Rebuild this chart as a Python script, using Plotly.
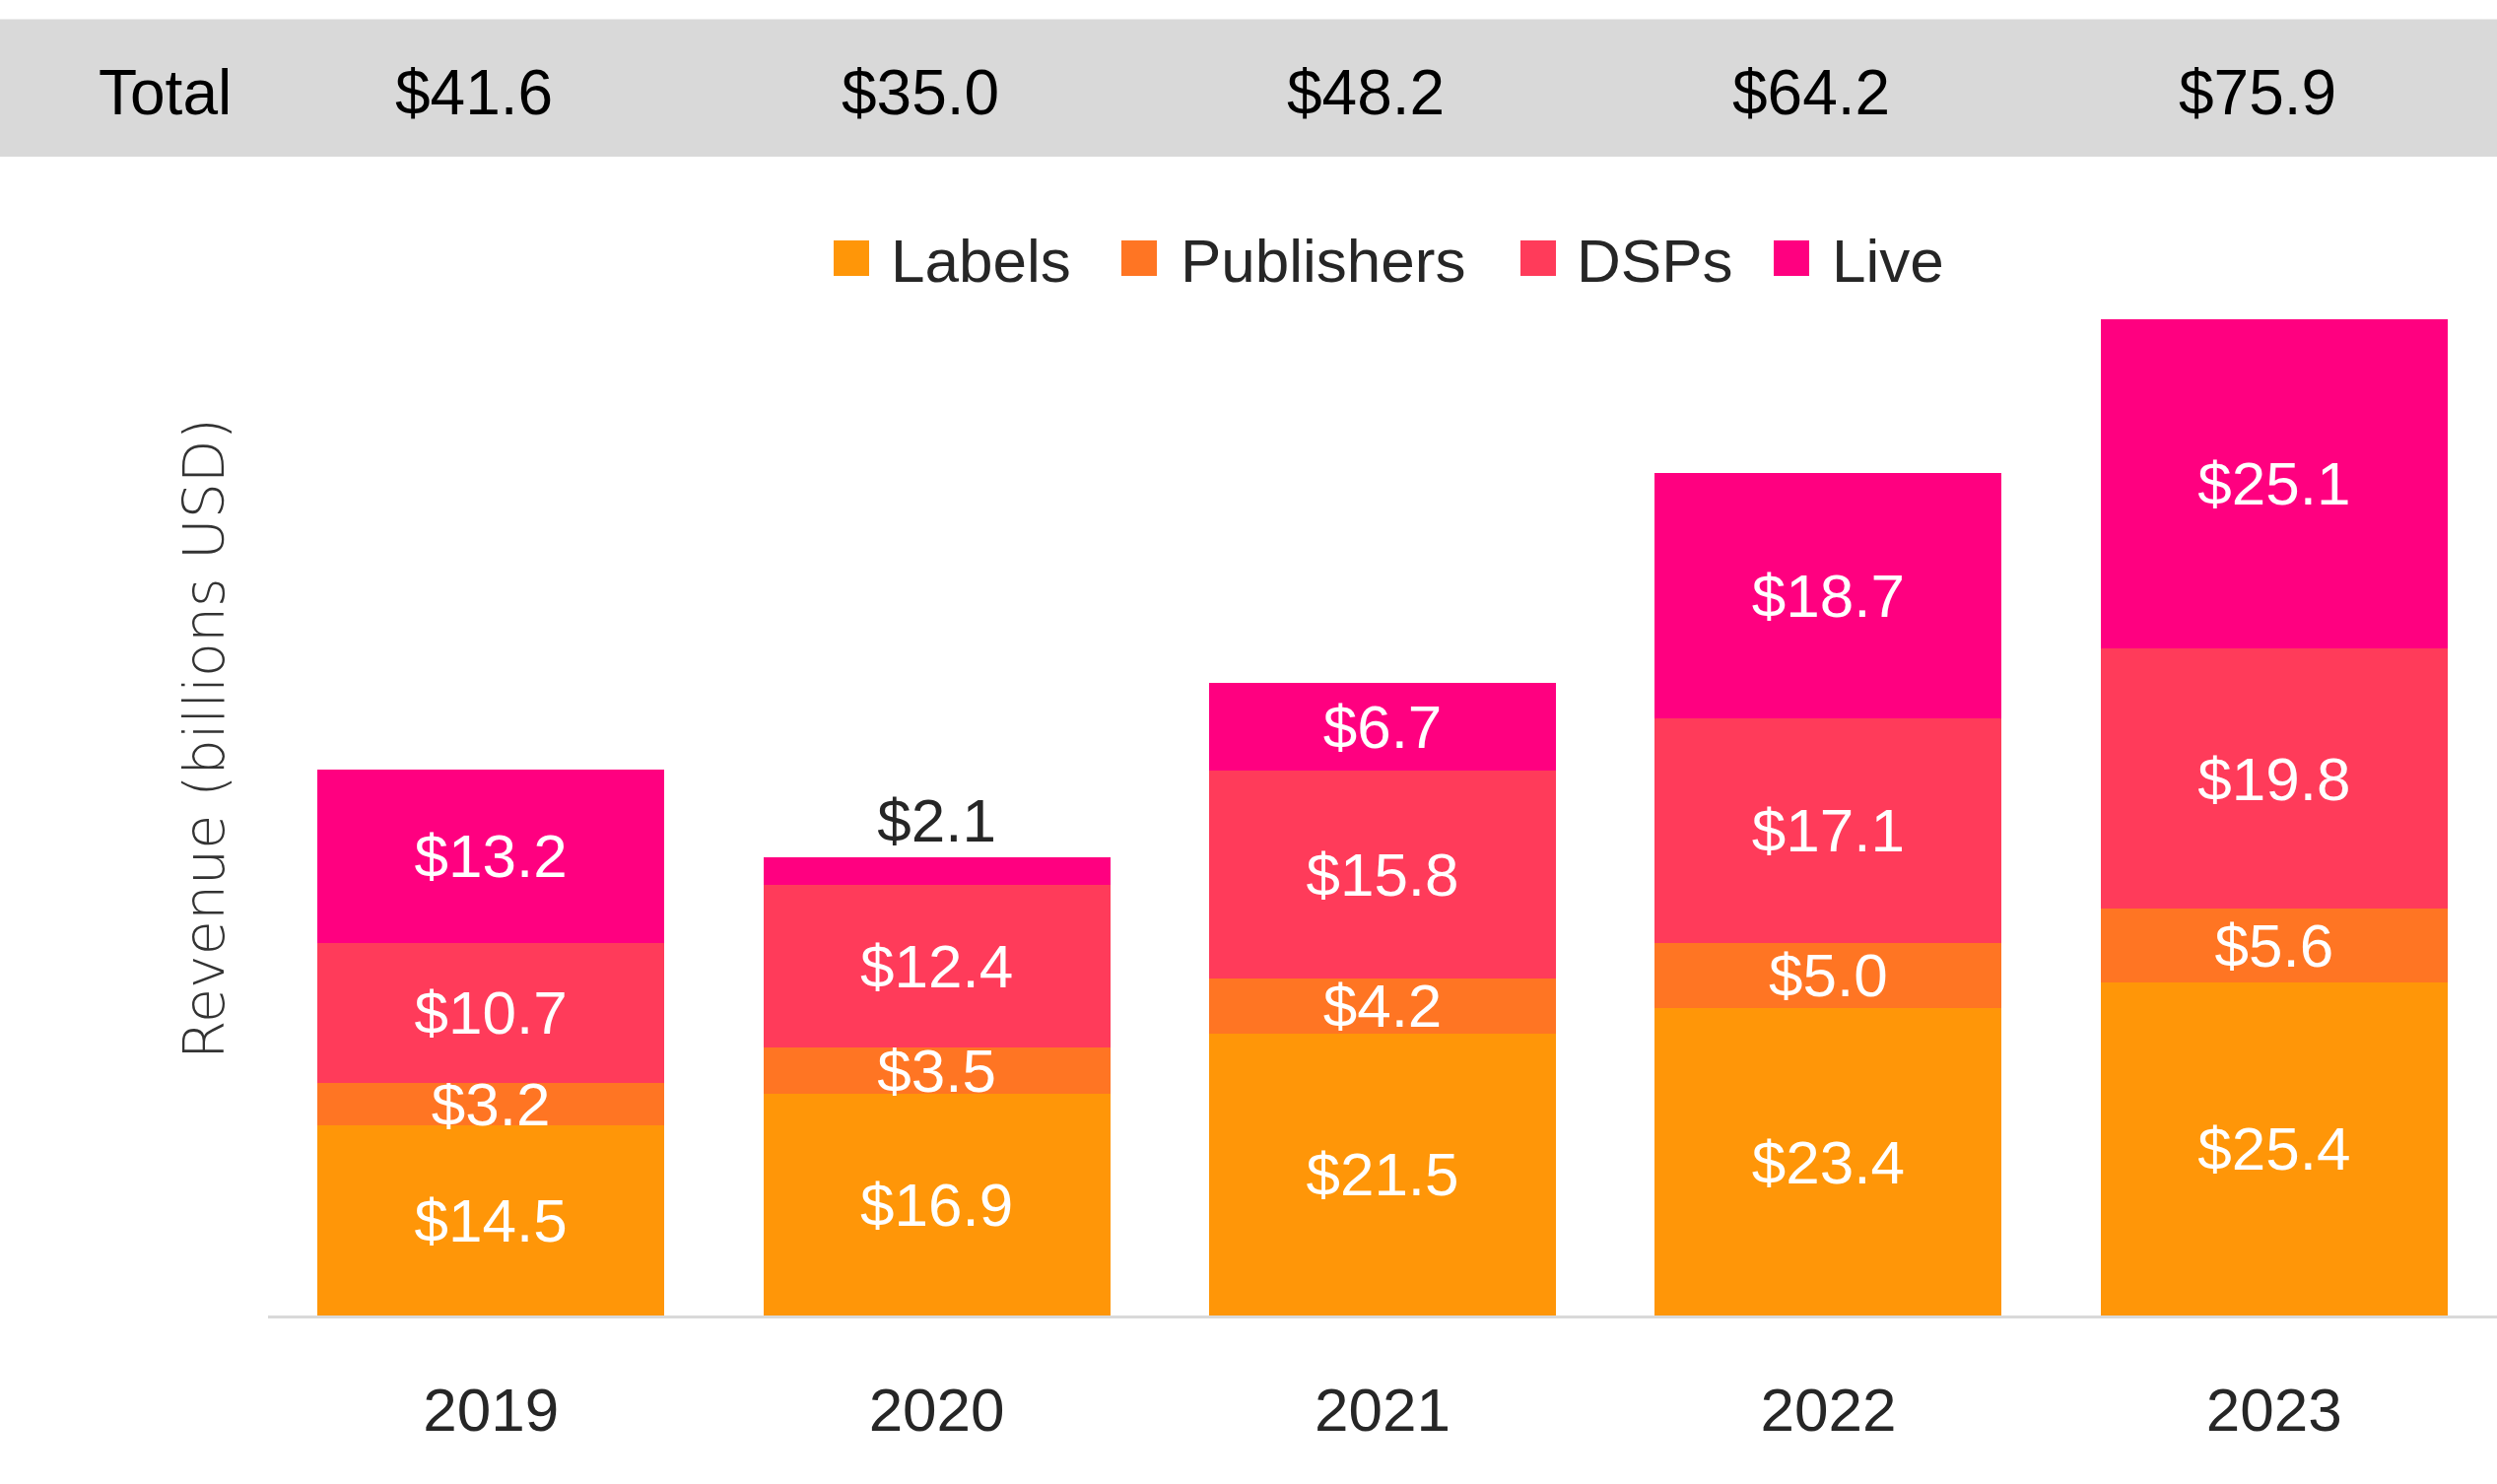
import plotly.graph_objects as go

# ---------------- data ----------------
years = ["2019", "2020", "2021", "2022", "2023"]
labels_rev = [14.5, 16.9, 21.5, 23.4, 25.4]
publishers_rev = [3.2, 3.5, 4.2, 5.0, 5.6]
dsps_rev = [10.7, 12.4, 15.8, 17.1, 19.8]
live_rev = [13.2, 2.1, 6.7, 18.7, 25.1]
totals = [41.6, 35.0, 48.2, 64.2, 75.9]
series_names = ["Labels", "Publishers", "DSPs", "Live"]
series_values = [labels_rev, publishers_rev, dsps_rev, live_rev]
series_colors = ["#FF9608", "#FF7523", "#FF3B5A", "#FF0080"]

# ---------------- layout constants ----------------
W, H = 2534, 1506
L, R, T, B = 272, 0, 269, 171
PW, PH = W - L - R, H - T - B
FONT = "Liberation Sans, Arial, Helvetica, sans-serif"
TXT = "#262626"
FS = 62


def px2x(px):
    return (px - L) / PW


def px2y(py):
    return (H - B - py) / PH


fig = go.Figure()
for name, vals, col in zip(series_names, series_values, series_colors):
    pos = ["inside" if v >= 3 else "outside" for v in vals]
    fig.add_trace(go.Bar(
        x=years, y=vals, name=name,
        marker=dict(color=col, line=dict(width=0)),
        texttemplate="$%{y:.1f}", textposition=pos,
        insidetextanchor="middle",
        insidetextfont=dict(color="white", size=FS, family=FONT),
        outsidetextfont=dict(color=TXT, size=FS, family=FONT),
        constraintext="none", cliponaxis=False, showlegend=False,
        hovertemplate=name + " %{x}: $%{y:.1f}B<extra></extra>",
    ))

shapes = []
annotations = []

# grey totals band
shapes.append(dict(type="rect", xref="paper", yref="paper",
                   x0=px2x(-5), x1=px2x(W + 5), y0=px2y(159), y1=px2y(19.5),
                   fillcolor="#D9D9D9", line=dict(width=0), layer="below"))
annotations.append(dict(text="Total", xref="paper", yref="paper",
                        x=px2x(167), y=px2y(94), xanchor="center", yanchor="middle",
                        showarrow=False, font=dict(family=FONT, size=64, color="#000000")))
for i, tot in enumerate(totals):
    # category index i on the x axis (years are numeric-looking strings)
    annotations.append(dict(text=f"${tot:.1f}", xref="x", yref="paper",
                            x=i, y=px2y(94), xshift=-17, xanchor="center", yanchor="middle",
                            showarrow=False, font=dict(family=FONT, size=64, color="#000000")))

# legend (built from the series names / colours)
leg_sq_x = [846, 1138, 1543, 1800]
leg_tx_x = [902, 1196, 1598, 1857]
leg_y = 262
for name, col, sx, tx in zip(series_names, series_colors, leg_sq_x, leg_tx_x):
    shapes.append(dict(type="rect", xref="paper", yref="paper",
                       x0=px2x(sx), x1=px2x(sx + 36), y0=px2y(leg_y + 18), y1=px2y(leg_y - 18),
                       fillcolor=col, line=dict(width=0)))
    annotations.append(dict(text=name, xref="paper", yref="paper",
                            x=px2x(tx), y=px2y(leg_y + 2), xanchor="left", yanchor="middle",
                            showarrow=False, font=dict(family=FONT, size=FS, color=TXT)))

# y-axis title
annotations.append(dict(text="Revenue (billions USD)", xref="paper", yref="paper",
                        x=px2x(207), y=px2y(750), xanchor="center", yanchor="middle",
                        textangle=-90, showarrow=False,
                        font=dict(family="DejaVu Sans, sans-serif", size=57, color="#333333", weight=200)))

fig.update_layout(
    width=W, height=H,
    margin=dict(l=L, r=R, t=T, b=B, pad=0),
    barmode="stack", bargap=0.222,
    paper_bgcolor="white", plot_bgcolor="white",
    font=dict(family=FONT, size=FS, color=TXT),
    xaxis=dict(type="category", categoryorder="array", categoryarray=years,
               range=[-0.5, len(years) - 0.5], autorange=False,
               showline=True, linecolor="#D9D9D9", linewidth=3, ticks="",
               showgrid=False, tickfont=dict(family=FONT, size=FS, color=TXT),
               ticklabelstandoff=40, fixedrange=True),
    yaxis=dict(range=[0, 80], autorange=False, visible=False, showgrid=False, fixedrange=True),
    shapes=shapes, annotations=annotations,
    showlegend=False,
)

fig.write_html("out.html", config={"displayModeBar": False},
               post_script="document.body.style.margin='0';document.body.style.overflow='hidden';")
